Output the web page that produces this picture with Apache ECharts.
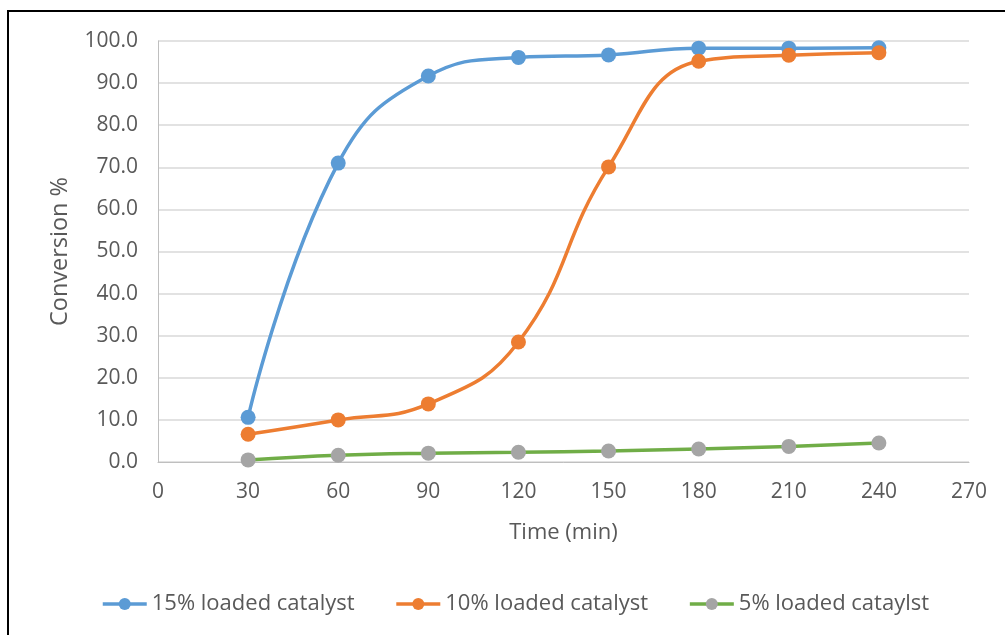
<!DOCTYPE html>
<html>
<head>
<meta charset="utf-8">
<script src="https://cdn.jsdelivr.net/npm/echarts@6/dist/echarts.min.js"></script>
<style>
html,body{margin:0;padding:0;background:#fff;}
#chart{width:1005px;height:635px;}
</style>
</head>
<body>
<div id="chart"></div>
<script>
const times = [30, 60, 90, 120, 150, 180, 210, 240];
const seriesNames = ['15% loaded catalyst', '10% loaded catalyst', '5% loaded cataylst'];
const conv15 = [10.6, 71.0, 91.7, 96.1, 96.7, 98.3, 98.3, 98.4];
const conv10 = [6.6, 10.0, 13.8, 28.5, 70.1, 95.2, 96.6, 97.2];
const conv5 = [0.5, 1.6, 2.1, 2.3, 2.6, 3.1, 3.7, 4.5];
const xTicks = [0, 30, 60, 90, 120, 150, 180, 210, 240, 270];
const yTicks = [0, 10, 20, 30, 40, 50, 60, 70, 80, 90, 100];

const pair = arr => times.map((t, i) => [t, arr[i]]);
const FONT = '"Open Sans", "Noto Sans", sans-serif';
const TXT = '#595959';

const chart = echarts.init(document.getElementById('chart'), null, {renderer: 'canvas'});

function mk(name, data, lineColor, markColor) {
  return {
    name: name,
    type: 'line',
    data: pair(data),
    smooth: 0.45,
    symbol: 'circle',
    symbolSize: 15,
    lineStyle: {color: lineColor, width: 3.5},
    itemStyle: {color: markColor},
    color: lineColor,
    z: 3
  };
}

chart.setOption({
  animation: false,
  backgroundColor: '#fff',
  graphic: [{
    type: 'rect',
    shape: {x: 8, y: 11, width: 1020, height: 650},
    style: {fill: 'none', stroke: '#000', lineWidth: 2},
    silent: true
  }],
  grid: {left: 158, right: 36, top: 41, bottom: 173, containLabel: false},
  xAxis: {
    type: 'value',
    min: 0, max: 270, interval: 30,
    name: 'Time (min)',
    nameLocation: 'middle',
    nameGap: 60,
    nameTextStyle: {fontFamily: FONT, fontSize: 22, color: TXT},
    axisLine: {show: true, lineStyle: {color: '#bfbfbf', width: 1}},
    axisTick: {show: false},
    splitLine: {show: false},
    axisLabel: {
      fontFamily: FONT, fontSize: 21, color: TXT, margin: 20,
      formatter: v => xTicks.includes(v) ? String(v) : ''
    }
  },
  yAxis: {
    type: 'value',
    min: 0, max: 100, interval: 10,
    name: 'Conversion %',
    nameLocation: 'middle',
    nameGap: 86,
    nameRotate: 90,
    nameTextStyle: {fontFamily: FONT, fontSize: 23.5, color: TXT},
    axisLine: {show: true, lineStyle: {color: '#bfbfbf', width: 1}},
    axisTick: {show: false},
    splitLine: {show: true, lineStyle: {color: '#d9d9d9', width: 1.5}},
    axisLabel: {
      fontFamily: FONT, fontSize: 21, color: TXT, margin: 20,
      formatter: v => yTicks.includes(v) ? v.toFixed(1) : ''
    }
  },
  legend: {
    bottom: 15,
    left: 96,
    itemWidth: 44,
    itemHeight: 15,
    itemGap: 40,
    lineStyle: {width: 3.5},
    textStyle: {fontFamily: FONT, fontSize: 22, color: TXT},
    data: seriesNames
  },
  series: [
    mk(seriesNames[0], conv15, '#5B9BD5', '#5B9BD5'),
    mk(seriesNames[1], conv10, '#ED7D31', '#ED7D31'),
    mk(seriesNames[2], conv5, '#70AD47', '#A5A5A5')
  ]
});
</script>
</body>
</html>
